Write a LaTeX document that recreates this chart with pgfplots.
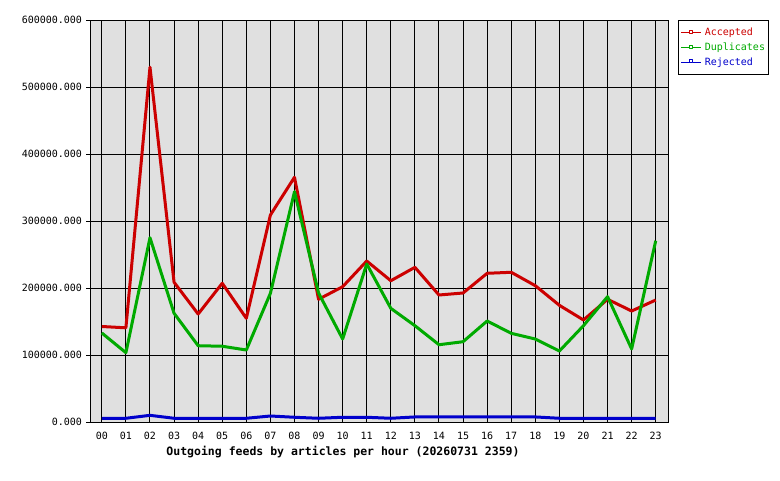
\documentclass[border=0pt]{standalone}
\usepackage{pgfplots}
\pgfplotsset{compat=1.18}
\usepackage{fontspec}
\setmainfont{DejaVu Sans Mono}
\definecolor{accred}{RGB}{204,0,0}
\definecolor{dupgreen}{RGB}{0,170,0}
\definecolor{rejblue}{RGB}{0,0,204}
\definecolor{plotbg}{RGB}{224,224,224}
\begin{document}
\begin{tikzpicture}[x=1pt,y=1pt]
\path[use as bounding box] (0,0) rectangle (780,480);
\begin{axis}[
  at={(90.5pt,57.7pt)}, anchor=south west,
  scale only axis, width=578pt, height=402pt,
  xmin=-0.47, xmax=23.53, ymin=0, ymax=600000,
  axis background/.style={fill=plotbg},
  axis line style={black, line width=1.2pt},
  grid=major,
  major grid style={black, line width=1pt},
  xtick={0,...,23},
  xticklabels={00,01,02,03,04,05,06,07,08,09,10,11,12,13,14,15,16,17,18,19,20,21,22,23},
  ytick={0,100000,200000,300000,400000,500000,600000},
  yticklabels={0.000,100000.000,200000.000,300000.000,400000.000,500000.000,600000.000},
  scaled y ticks=false,
  tick pos=left, tick align=outside,
  major tick length=4pt,
  xtick style={draw=none},
  ytick style={black, line width=1pt},
  tick label style={font=\fontsize{10}{10}\selectfont},
  xticklabel style={yshift=-2.5pt},
  yticklabel style={xshift=-1pt},
  /pgf/number format/assume math mode=true,
  legend style={at={(1.017,1)}, anchor=north west, draw=black, line width=1pt,
    fill=white, font=\fontsize{10}{10}\selectfont, inner xsep=2pt, inner ysep=6pt,
    row sep=2.7pt, nodes={inner sep=1.5pt}},
  legend cell align=left,
  legend image code/.code={
    \draw[#1, line width=1pt] (0pt,0pt) -- (20pt,0pt);
    \draw[#1, line width=1pt, fill=white] (8.5pt,-0.5pt) rectangle (11.5pt,2.5pt);
    \path[draw=none, fill=none] (0pt,0pt) -- (22pt,0pt);
  },
]
\addplot[accred, line width=3pt, line join=round] coordinates {
(0,143000)(1,141000)(2,530000)(3,209000)(4,161600)(5,207500)(6,155200)(7,309400)
(8,365700)(9,183600)(10,202400)(11,240700)(12,211300)(13,231300)(14,190000)(15,193000)
(16,222400)(17,223900)(18,203900)(19,174600)(20,152700)(21,183600)(22,166100)(23,182500)};
\addlegendentry{\textcolor{accred}{Accepted}}
\addplot[dupgreen, line width=3pt, line join=round] coordinates {
(0,133300)(1,103900)(2,275500)(3,162700)(4,114300)(5,113500)(6,107900)(7,192500)
(8,344200)(9,193000)(10,124300)(11,236300)(12,170100)(13,144200)(14,115800)(15,120300)
(16,151200)(17,132800)(18,124300)(19,106400)(20,144200)(21,187500)(22,109400)(23,271000)};
\addlegendentry{\textcolor{dupgreen}{Duplicates}}
\addplot[rejblue, line width=3pt, line join=round] coordinates {
(0,6000)(1,6000)(2,10400)(3,6000)(4,6000)(5,6000)(6,6000)(7,9400)
(8,7500)(9,6000)(10,7500)(11,7500)(12,6000)(13,8000)(14,8000)(15,8000)
(16,8000)(17,8000)(18,8000)(19,6000)(20,6000)(21,6000)(22,6000)(23,6000)};
\addlegendentry{\textcolor{rejblue}{Rejected}}
\end{axis}
\node[font=\bfseries\fontsize{11.5}{11.5}\selectfont, anchor=center] at (343,28.3) {Outgoing feeds by articles per hour (20260731 2359)};
\end{tikzpicture}
\end{document}
